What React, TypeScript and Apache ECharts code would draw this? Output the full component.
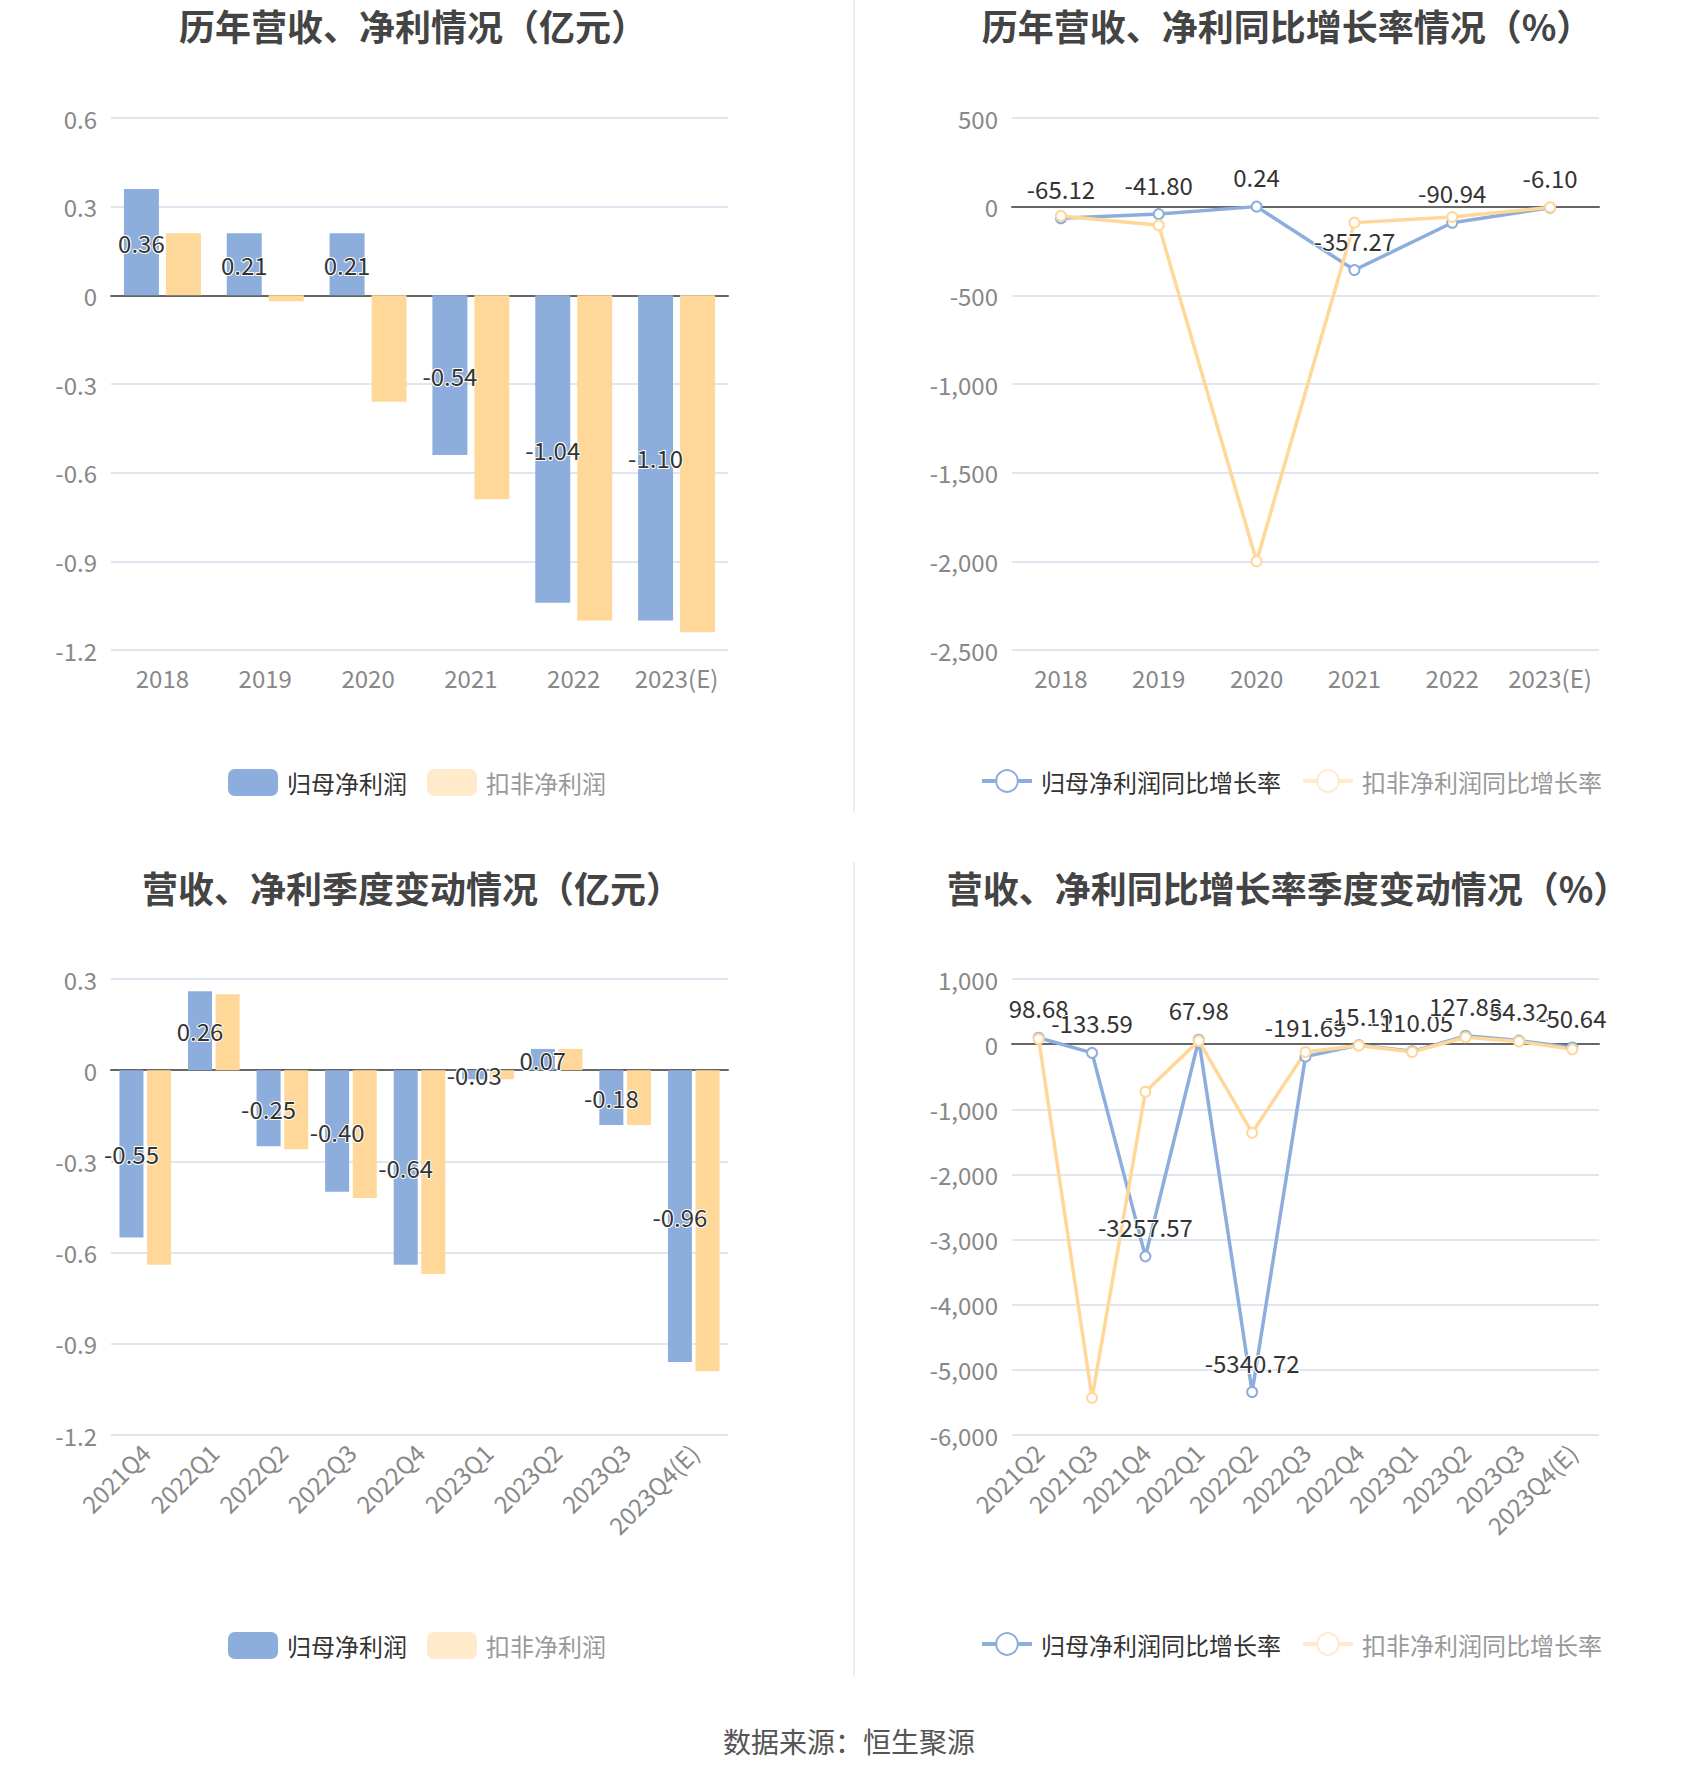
import React, { useEffect, useRef } from "react";
import * as echarts from "echarts";

const years = ["2018", "2019", "2020", "2021", "2022", "2023(E)"];
const annualNet = [0.36, 0.21, 0.21, -0.54, -1.04, -1.1];
const annualDeducted = [0.21, -0.02, -0.36, -0.69, -1.1, -1.14];
const annualNetGrowth = [-65.12, -41.8, 0.24, -357.27, -90.94, -6.1];
const annualDeductedGrowth = [-52, -105, -2000, -90, -58, -4];

const quarters = ["2021Q4", "2022Q1", "2022Q2", "2022Q3", "2022Q4", "2023Q1", "2023Q2", "2023Q3", "2023Q4(E)"];
const quarterNet = [-0.55, 0.26, -0.25, -0.4, -0.64, -0.03, 0.07, -0.18, -0.96];
const quarterDeducted = [-0.64, 0.25, -0.26, -0.42, -0.67, -0.03, 0.07, -0.18, -0.99];

const growthQuarters = ["2021Q2", "2021Q3", "2021Q4", "2022Q1", "2022Q2", "2022Q3", "2022Q4", "2023Q1", "2023Q2", "2023Q3", "2023Q4(E)"];
const quarterNetGrowth = [98.68, -133.59, -3257.57, 67.98, -5340.72, -191.69, -15.19, -110.05, 127.88, 54.32, -50.64];
const quarterDeductedGrowth = [80, -5430, -730, 50, -1360, -120, -20, -120, 105, 40, -80];

const titles = ["历年营收、净利情况（亿元）", "历年营收、净利同比增长率情况（%）", "营收、净利季度变动情况（亿元）", "营收、净利同比增长率季度变动情况（%）"];
const barNames = ["归母净利润", "扣非净利润"];
const lineNames = ["归母净利润同比增长率", "扣非净利润同比增长率"];
const sourceText = "数据来源：恒生聚源";

const BLUE = "#8DAEDC";
const ORANGE = "#FFD899";
const PALE = "#FFEBCC";
const FONT = "'Noto Sans CJK SC', 'Noto Sans', sans-serif";

const fmtComma = (v: number) => {
  const s = Math.abs(Math.round(v)).toString().replace(/\B(?=(\d{3})+(?!\d))/g, ",");
  return (v < 0 ? "-" : "") + s;
};
const fmtDec = (v: number) => String(Math.round(v * 10) / 10);

const dataLabel = (position: string, distance = 5) => ({
  show: true,
  position,
  distance,
  color: "#333",
  fontSize: 24,
  fontFamily: FONT,
  textBorderColor: "#fff",
  textBorderWidth: 2,
  formatter: (p: any) => Number(p.value).toFixed(2),
});

export default function App() {
  const ref = useRef<HTMLDivElement>(null);
  useEffect(() => {
    document.body.style.margin = "0";
    const chart = echarts.init(ref.current!, null, { renderer: "svg" });
    const grids = [
      { left: 111, top: 118, width: 617, height: 532 },
      { left: 1012, top: 118, width: 587, height: 532 },
      { left: 111, top: 979, width: 617, height: 456 },
      { left: 1012, top: 979, width: 587, height: 456 },
    ];
    const xCats = [years, years, quarters, growthQuarters];
    const xAxis = xCats.map((cats, i) => ({
      type: "category",
      gridIndex: i,
      data: cats,
      axisLine: { onZero: true, lineStyle: { color: "#666", width: 2 } },
      axisTick: { alignWithLabel: true, lineStyle: { color: "#666" }, length: 6 },
      axisLabel: {
        color: "#888",
        fontSize: 24,
        fontFamily: FONT,
        margin: i < 2 ? 15 : 13,
        rotate: i < 2 ? 0 : 45,
        interval: 0,
      },
    }));
    const yRanges = [
      { min: -1.2, max: 0.6, interval: 0.3, f: fmtDec },
      { min: -2500, max: 500, interval: 500, f: fmtComma },
      { min: -1.2, max: 0.3, interval: 0.3, f: fmtDec },
      { min: -6000, max: 1000, interval: 1000, f: fmtComma },
    ];
    const yAxis = yRanges.map((r, i) => ({
      type: "value",
      gridIndex: i,
      min: r.min,
      max: r.max,
      interval: r.interval,
      axisLine: { show: false },
      axisTick: { show: false },
      splitLine: { lineStyle: { color: "#E0E6F1", width: 2 } },
      axisLabel: { color: "#888", fontSize: 24, fontFamily: FONT, margin: 14, formatter: r.f },
    }));

    const lineCommon = {
      type: "line",
      symbol: "emptyCircle",
      symbolSize: 10,
    };

    const series: any[] = [
      {
        type: "bar", name: barNames[0], xAxisIndex: 0, yAxisIndex: 0, data: annualNet,
        barWidth: 35, barGap: "20%", itemStyle: { color: BLUE }, label: dataLabel("inside"),
      },
      {
        type: "bar", name: barNames[1], xAxisIndex: 0, yAxisIndex: 0, data: annualDeducted,
        barWidth: 35, barGap: "20%", itemStyle: { color: ORANGE },
      },
      {
        ...lineCommon, name: lineNames[0], xAxisIndex: 1, yAxisIndex: 1, data: annualNetGrowth,
        itemStyle: { color: BLUE, borderWidth: 2.5 }, lineStyle: { width: 3.5, color: BLUE }, label: dataLabel("top", 12),
      },
      {
        ...lineCommon, name: lineNames[1], xAxisIndex: 1, yAxisIndex: 1, data: annualDeductedGrowth,
        itemStyle: { color: ORANGE, borderWidth: 2.5 }, lineStyle: { width: 3.5, color: ORANGE },
      },
      {
        type: "bar", name: barNames[0], xAxisIndex: 2, yAxisIndex: 2, data: quarterNet,
        barWidth: 24, barGap: "15%", itemStyle: { color: BLUE }, label: dataLabel("inside"),
      },
      {
        type: "bar", name: barNames[1], xAxisIndex: 2, yAxisIndex: 2, data: quarterDeducted,
        barWidth: 24, barGap: "15%", itemStyle: { color: ORANGE },
      },
      {
        ...lineCommon, name: lineNames[0], xAxisIndex: 3, yAxisIndex: 3, data: quarterNetGrowth,
        itemStyle: { color: BLUE, borderWidth: 2.5 }, lineStyle: { width: 3.5, color: BLUE }, label: dataLabel("top", 12),
      },
      {
        ...lineCommon, name: lineNames[1], xAxisIndex: 3, yAxisIndex: 3, data: quarterDeductedGrowth,
        itemStyle: { color: ORANGE, borderWidth: 2.5 }, lineStyle: { width: 3.5, color: ORANGE },
      },
    ];

    const barLegend = (top: number) => ({
      left: 223,
      top,
      itemWidth: 50,
      itemHeight: 27,
      itemGap: 20,
      icon: "roundRect",
      selectedMode: false,
      textStyle: { fontSize: 24, fontFamily: FONT, color: "#333", padding: [0, 0, 0, 4] },
      data: [
        { name: barNames[0] },
        { name: barNames[1], itemStyle: { color: PALE }, textStyle: { color: "#999" } },
      ],
    });
    const lineLegend = (top: number) => ({
      left: 975,
      top,
      itemWidth: 50,
      itemHeight: 27,
      itemGap: 20,
      selectedMode: false,
      textStyle: { fontSize: 24, fontFamily: FONT, color: "#333", padding: [0, 0, 0, 4] },
      data: [
        {
          name: lineNames[0],
          itemStyle: { color: BLUE, borderColor: BLUE, borderWidth: 4 },
          lineStyle: { color: BLUE, width: 4 },
        },
        {
          name: lineNames[1],
          itemStyle: { color: PALE, borderColor: PALE, borderWidth: 4 },
          lineStyle: { color: PALE, width: 4 },
          textStyle: { color: "#999" },
        },
      ],
    });

    const titlePos = [
      [413, 25],
      [1287, 25],
      [412, 887],
      [1288, 887],
    ];

    const graphic: any[] = titles.map((t, i) => ({
      type: "text",
      x: titlePos[i][0],
      y: titlePos[i][1],
      style: {
        text: t,
        fill: "#444",
        font: `bold 36px ${FONT}`,
        align: "center",
        verticalAlign: "middle",
      },
    }));
    graphic.push(
      { type: "line", shape: { x1: 854, y1: 0, x2: 854, y2: 812 }, style: { stroke: "#EEEEEE", lineWidth: 2 } },
      { type: "line", shape: { x1: 854, y1: 862, x2: 854, y2: 1676 }, style: { stroke: "#EEEEEE", lineWidth: 2 } },
      {
        type: "text",
        x: 849,
        y: 1741,
        style: { text: sourceText, fill: "#555", font: `28px ${FONT}`, align: "center", verticalAlign: "middle" },
      }
    );

    chart.setOption({
      animation: false,
      backgroundColor: "#fff",
      textStyle: { fontFamily: FONT },
      grid: grids,
      xAxis,
      yAxis,
      series,
      legend: [barLegend(764), lineLegend(764), barLegend(1627), lineLegend(1627)],
      graphic,
    });
    return () => chart.dispose();
  }, []);
  return <div ref={ref} style={{ width: 1700, height: 1782 }} />;
}
